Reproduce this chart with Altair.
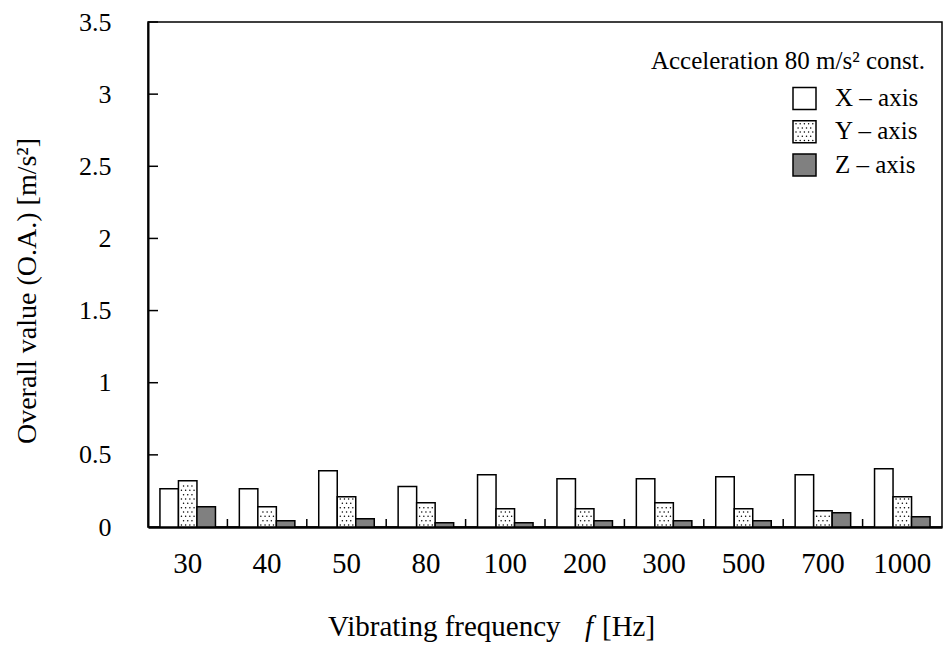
import altair as alt
import pandas as pd

# ---- data ----
freqs = ["30", "40", "50", "80", "100", "200", "300", "500", "700", "1000"]
series = ["X", "Y", "Z"]
x_vals = [0.265, 0.265, 0.39, 0.28, 0.362, 0.335, 0.335, 0.349, 0.362, 0.404]
y_vals = [0.32, 0.14, 0.21, 0.168, 0.127, 0.127, 0.168, 0.127, 0.113, 0.21]
z_vals = [0.14, 0.044, 0.057, 0.03, 0.03, 0.044, 0.044, 0.044, 0.099, 0.071]
y_ticks = [0.5, 1, 1.5, 2, 2.5, 3, 3.5]
legend_labels = ["X \u2013 axis", "Y \u2013 axis", "Z \u2013 axis"]

W, H = 794, 505
FONT = "Liberation Serif"
STEP = W / len(freqs)
OFF_PAD = 0.645
OFF_STEP = STEP / (3 + 2 * OFF_PAD)

rows = []
for f, a, b, c in zip(freqs, x_vals, y_vals, z_vals):
    rows += [{"freq": f, "axis": "X", "value": a},
             {"freq": f, "axis": "Y", "value": b},
             {"freq": f, "axis": "Z", "value": c}]
df = pd.DataFrame(rows)

# dotted texture for the Y-axis bars (decoration derived from the Y values)
dots = []
y_start = OFF_STEP * OFF_PAD + OFF_STEP
for f, v in zip(freqs, y_vals):
    k = 0
    yy = 0.014
    while yy < v - 0.01:
        cols = [0, 2, 4, 6] if k % 2 == 0 else [1, 3, 5]
        for cc in cols:
            dots.append({"freq": f, "value": yy, "xo": y_start + 3.0 + cc * 2.1})
        k += 1
        yy += 0.03
dots_df = pd.DataFrame(dots)

x_scale = alt.Scale(domain=freqs, paddingInner=0, paddingOuter=0)
y_scale = alt.Scale(domain=[0, 3.5], nice=False, zero=True)

x_axis = alt.Axis(title=None, labelAngle=0, ticks=False, tickSize=0,
                  labelFont=FONT, labelFontSize=29, labelColor="black",
                  labelPadding=22, domainColor="black", domainWidth=2.5, grid=False)
y_axis = alt.Axis(title=None, values=[0] + y_ticks, ticks=False, tickSize=0,
                  labelExpr="'' + datum.value", grid=False,
                  labelFont=FONT, labelFontSize=26, labelColor="black",
                  labelPadding=37, domainColor="black", domainWidth=2)

X_ENC = alt.X("freq:N", sort=freqs, scale=x_scale, axis=x_axis, title=None)
Y_ENC = alt.Y("value:Q", scale=y_scale, axis=y_axis, title=None)

bars = alt.Chart(df).mark_bar(stroke="black", strokeWidth=1.5).encode(
    x=X_ENC,
    xOffset=alt.XOffset("axis:N", sort=series,
                        scale=alt.Scale(domain=series, paddingOuter=OFF_PAD, paddingInner=0)),
    y=Y_ENC,
    fill=alt.Fill("axis:N", scale=alt.Scale(domain=series, range=["white", "white", "#808080"]),
                  legend=None),
)

dot_layer = alt.Chart(dots_df).mark_circle(size=2.2, color="black", opacity=1).encode(
    x=X_ENC,
    xOffset=alt.XOffset("xo:Q", scale=alt.Scale(domain=[0, STEP], range=[0, STEP])),
    y=Y_ENC,
)

ytick_layer = alt.Chart(pd.DataFrame({"value": y_ticks})).mark_rule(color="black", strokeWidth=1.5).encode(
    y=Y_ENC,
    x=alt.value(0), x2=alt.value(10),
)

xtick_layer = alt.Chart(pd.DataFrame({"freq": freqs[1:]})).mark_rule(color="black", strokeWidth=1.5).encode(
    x=alt.X("freq:N", sort=freqs, scale=x_scale, axis=x_axis, title=None, bandPosition=0),
    y=alt.value(H), y2=alt.value(H - 8),
)

one = pd.DataFrame({"k": [0]})

def txt(s, x, y, size, align="left", baseline="alphabetic", angle=0, style="normal"):
    kw = dict(font=FONT, fontSize=size, color="black", align=align, baseline=baseline,
              fontStyle=style)
    if angle:
        kw["angle"] = angle
    return alt.Chart(one).mark_text(**kw).encode(
        x=alt.value(x), y=alt.value(y), text=alt.value(s))

# legend
leg_top = [65.5, 98.7, 132]
legend_layers = []
for lab, fl, top in zip(legend_labels, ["white", "white", "#808080"], leg_top):
    legend_layers.append(
        alt.Chart(one).mark_rect(fill=fl, stroke="black", strokeWidth=1.5).encode(
            x=alt.value(645), x2=alt.value(668), y=alt.value(top), y2=alt.value(top + 22)))
    legend_layers.append(txt(lab, 687, top + 18.5, 25))

leg_dots = []
for r in range(5):
    cols = [0, 2, 4, 6, 8] if r % 2 == 0 else [1, 3, 5, 7]
    for cc in cols:
        leg_dots.append({"px": 648 + cc * 2.1, "py": leg_top[1] + 3 + r * 4.2})
leg_dot_layer = alt.Chart(pd.DataFrame(leg_dots)).mark_circle(size=2.2, color="black", opacity=1).encode(
    x=alt.X("px:Q", scale=None), y=alt.Y("py:Q", scale=None))

texts = [
    txt("Acceleration 80 m/s\u00b2 const.", 777, 47, 25, align="right"),
    txt("Vibrating frequency", 180, 614, 29),
    txt("f", 437, 614, 29, style="italic"),
    txt("[Hz]", 454, 614, 29),
    txt("Overall value (O.A.) [m/s\u00b2]", -120, 269, 28, align="center", baseline="middle", angle=270),
]

chart = alt.layer(
    bars, dot_layer, ytick_layer, xtick_layer, *legend_layers, leg_dot_layer, *texts
).resolve_scale(xOffset="independent").properties(
    width=W, height=H,
    autosize=alt.AutoSizeParams(type="none"),
    padding={"left": 148, "top": 22, "right": 6, "bottom": 120},
    background="white",
).configure_view(stroke="black", strokeWidth=1.5)

chart.save("out.html", embed_options={"renderer": "svg", "actions": False})
